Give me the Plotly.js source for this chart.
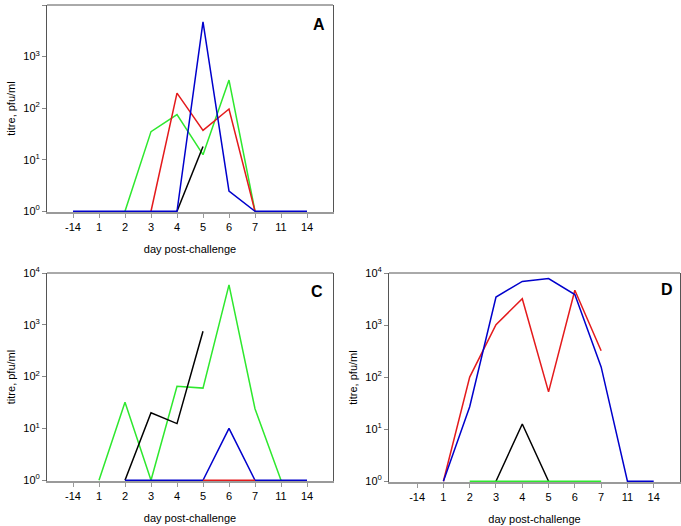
<!DOCTYPE html>
<html>
<head>
<meta charset="utf-8">
<script src="https://cdn.plot.ly/plotly-3.0.1.min.js"></script>
<style>html,body{margin:0;padding:0;background:#fff}#chart{width:681px;height:526px}</style>
</head>
<body>
<div id="chart"></div>
<script>
// categories (days post-challenge)
const days = ['-14','1','2','3','4','5','6','7','11','14'];
const yTickVals = [1, 10, 100, 1000, 10000];
const yTickText = ['10<sup>0</sup>','10<sup>1</sup>','10<sup>2</sup>','10<sup>3</sup>','10<sup>4</sup>'];

// Panel A
const aGreen = [null, null, 1, 35, 75, 12.5, 350, 1, null, null];
const aRed   = [null, null, null, 1, 195, 37, 96, 1, null, null];
const aBlack = [null, null, null, null, 1, 18, null, null, null, null];
const aBlue  = [1, 1, 1, 1, 1, 4700, 2.45, 1, 1, 1];

// Panel C
const cGreen = [null, 1, 32, 1, 65, 60, 5900, 24, 1, null];
const cBlack = [null, null, 1, 20, 12.4, 750, null, null, null, null];
const cBlue  = [null, null, 1, 1, 1, 1, 10, 1, 1, 1];
const cRed   = [null, null, null, null, null, 1, 1, 1, null, null];

// Panel D
const dRed   = [null, 1, 100, 1020, 3200, 52, 4650, 320, null, null];
const dBlue  = [null, 1, 27, 3450, 6900, 7800, 3850, 157, 1, 1];
const dBlack = [null, null, null, 1, 12.6, 1, null, null, null, null];
const dGreen = [null, null, 1, 1, 1, 1, 1, 1, null, null];

const COL = {green:'#2ee82e', red:'#e41a1c', black:'#000000', blue:'#0000cc'};

function tr(y, color, xa, ya){
  return {x: days, y: y, type:'scatter', mode:'lines', xaxis: xa, yaxis: ya,
    connectgaps:false, hoverinfo:'skip', showlegend:false,
    line:{color: COL[color], width:1.5}};
}

const data = [
  tr(aGreen,'green','x','y'), tr(aRed,'red','x','y'), tr(aBlack,'black','x','y'), tr(aBlue,'blue','x','y'),
  tr(cGreen,'green','x2','y2'), tr(cBlack,'black','x2','y2'), tr(cBlue,'blue','x2','y2'), tr(cRed,'red','x2','y2'),
  tr(dRed,'red','x3','y3'), tr(dBlue,'blue','x3','y3'), tr(dBlack,'black','x3','y3'), tr(dGreen,'green','x3','y3')
];

const W = 681, H = 526;
const FONT = 'Liberation Sans, Arial, sans-serif';
function xax(domain, range, anchor){
  return {domain: domain, anchor: anchor, type:'category', range: range,
    showline:true, linecolor:'#9a9a9a', linewidth:1.5, mirror:false, layer:'below traces',
    ticks:'outside', ticklen:4, tickcolor:'#9a9a9a', showgrid:false, zeroline:false,
    tickfont:{family:FONT, size:11, color:'#000'},
    title:{text:'day post-challenge', font:{family:FONT, size:11, color:'#000'}, standoff:13}};
}
function yax(domain, anchor){
  return {domain: domain, anchor: anchor, type:'log', range:[-0.015, 4],
    tickmode:'array', tickvals: yTickVals, ticktext: yTickText,
    showline:true, linecolor:'#555', linewidth:1, mirror:true, layer:'below traces',
    ticks:'outside', ticklen:4, tickcolor:'#888', showgrid:false, zeroline:false,
    tickfont:{family:FONT, size:11, color:'#000'},
    title:{text:'titre, pfu/ml', font:{family:FONT, size:11, color:'#000'}, standoff:5}};
}

const layout = {
  width: W, height: H,
  margin:{l:0, r:0, t:0, b:0},
  paper_bgcolor:'#fff', plot_bgcolor:'#fff',
  font:{family:FONT},
  xaxis:  xax([47/W, 333/W], [-1, 10], 'y'),
  yaxis:  yax([(H-212)/H, (H-5)/H], 'x'),
  xaxis2: xax([47/W, 333/W], [-1, 10], 'y2'),
  yaxis2: yax([(H-481)/H, (H-273)/H], 'x2'),
  xaxis3: xax([389/W, 680/W], [-1.07, 10], 'y3'),
  yaxis3: yax([(H-482)/H, (H-273)/H], 'x3'),
  shapes: [['x','y'],['x2','y2'],['x3','y3']].map(p => ({
    type:'line', layer:'below', xref: p[0]+' domain', yref: p[1]+' domain', x0:0, x1:1, y0:1, y1:1,
    line:{color:'#555', width:1}})),
  annotations: [
    {text:'<b>A</b>', xref:'x domain', yref:'y domain', x:0.951, y:0.908, xanchor:'center', yanchor:'middle', showarrow:false, font:{family:FONT, size:16, color:'#000'}},
    {text:'<b>C</b>', xref:'x2 domain', yref:'y2 domain', x:0.944, y:0.909, xanchor:'center', yanchor:'middle', showarrow:false, font:{family:FONT, size:16, color:'#000'}},
    {text:'<b>D</b>', xref:'x3 domain', yref:'y3 domain', x:0.955, y:0.919, xanchor:'center', yanchor:'middle', showarrow:false, font:{family:FONT, size:16, color:'#000'}}
  ]
};

Plotly.newPlot('chart', data, layout, {displayModeBar:false, staticPlot:true});
</script>
</body>
</html>
